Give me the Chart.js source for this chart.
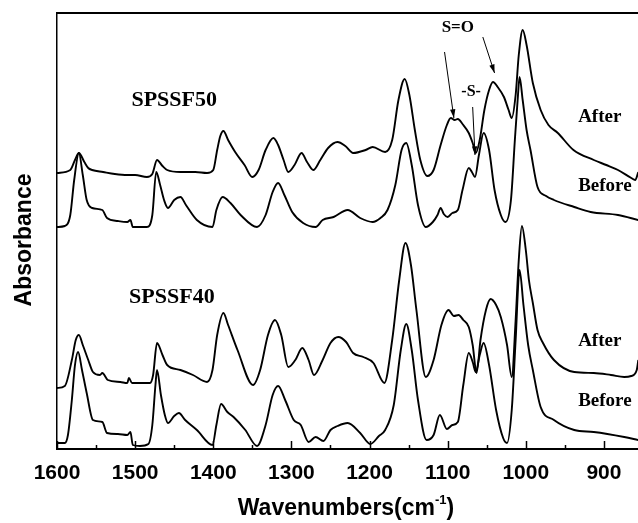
<!DOCTYPE html>
<html lang="en">
<head>
    <meta charset="UTF-8">
    <title>FTIR spectra</title>
    <script src="https://cdn.jsdelivr.net/npm/chart.js"></script>
    <style>
        html, body { margin: 0; padding: 0; background: #fff; }
        #wrap { width: 638px; height: 523px; }
    </style>
</head>
<body>
    <div id="wrap"><canvas id="irChart" width="638" height="523"></canvas></div>
    <script>
    // wavenumbers (cm-1) and absorbance (arbitrary, offset)
    const wn50After = [1600,1583,1577,1572,1565,1560,1555,1541,1526,1510,1500,1485,1478,1472,1465,1459,1442,1423,1408,1400,1395,1391,1387,1381,1372,1360,1350,1342,1333,1323,1317,1310,1304,1296,1287,1280,1272,1263,1253,1241,1231,1221,1205,1196,1180,1171,1163,1155,1149,1142,1135,1126,1118,1109,1101,1096,1091,1087,1081,1073,1068,1064,1059,1053,1047,1042,1036,1028,1022,1018,1013,1009,1004,999,991,981,971,959,939,913,897,882,865,860,856];
    const abs50After = [276,279,289,296,287,281,279,277,275,274,274,272,275,289,283,279,277,277,276,279,299,313,318,309,297,284,272,279,299,311,304,289,277,284,296,287,279,289,301,307,303,296,299,302,297,309,349,370,354,319,289,273,279,304,324,331,329,330,325,316,306,296,309,339,359,367,362,352,339,331,354,394,419,404,366,339,324,316,299,289,284,279,271,269,277];

    const wn50Before = [1600,1590,1583,1578,1572,1567,1562,1555,1542,1536,1522,1510,1506,1503,1485,1478,1473,1468,1463,1458,1450,1442,1435,1421,1401,1396,1388,1378,1365,1344,1333,1324,1317,1309,1299,1285,1269,1260,1246,1228,1212,1196,1186,1177,1167,1159,1153,1146,1138,1128,1119,1113,1109,1105,1100,1094,1087,1081,1073,1069,1065,1060,1054,1047,1040,1032,1026,1019,1014,1010,1008,1004,999,994,985,974,964,938,917,882,856];
    const abs50Before = [222,223,234,269,296,274,249,241,239,231,228,227,229,222,222,234,277,264,249,241,249,252,244,229,222,239,252,246,234,222,234,257,266,254,237,226,222,229,232,239,231,227,231,239,264,299,306,284,244,222,227,234,241,235,232,236,239,259,281,277,272,294,316,299,259,234,227,249,309,354,372,349,319,299,262,253,249,242,237,234,229];

    const wn40After = [1600,1590,1581,1576,1572,1567,1560,1554,1545,1542,1535,1519,1510,1508,1504,1481,1477,1472,1465,1459,1442,1426,1408,1401,1395,1387,1381,1369,1349,1340,1330,1321,1313,1304,1295,1286,1278,1271,1260,1250,1240,1230,1221,1208,1195,1181,1171,1162,1154,1147,1140,1128,1118,1108,1099,1092,1086,1080,1073,1068,1063,1058,1051,1045,1038,1032,1024,1018,1013,1009,1005,1000,996,991,985,978,964,938,913,891,874,865,858,856];
    const abs40After = [61,63,89,109,114,104,89,77,74,76,69,67,66,71,66,66,74,106,94,84,79,74,67,79,114,136,124,99,64,79,114,129,114,82,89,101,89,74,89,106,112,107,96,92,86,66,109,169,206,184,139,72,89,124,139,133,134,129,122,104,76,109,139,150,144,132,104,72,129,189,223,199,169,146,119,106,89,77,76,74,72,73,79,89];

    const wn40Before = [1600,1590,1586,1581,1577,1573,1568,1562,1554,1542,1536,1522,1510,1506,1503,1494,1483,1478,1474,1472,1467,1462,1458,1450,1444,1436,1421,1401,1396,1390,1382,1374,1359,1344,1333,1324,1317,1308,1297,1288,1278,1269,1259,1250,1241,1228,1212,1199,1188,1180,1169,1160,1153,1146,1138,1127,1118,1110,1101,1094,1087,1080,1073,1068,1064,1059,1054,1047,1038,1029,1024,1018,1013,1008,1003,997,991,981,964,938,913,874,856];
    const abs40Before = [6,6,14,49,84,97,79,56,29,27,16,15,14,17,4,3,5,24,64,79,54,34,26,33,36,29,19,4,24,45,37,32,19,3,24,54,63,49,29,24,7,12,8,19,23,26,16,5,13,19,44,99,125,99,49,9,14,34,20,24,27,64,96,87,77,94,106,84,39,11,6,39,109,179,144,104,79,42,29,19,17,12,9];

    const xTicks = [1600, 1500, 1400, 1300, 1200, 1100, 1000, 900];

    function toPoints(xs, ys) {
        return xs.map((x, i) => ({ x: x, y: ys[i] }));
    }

    // text labels placed in data coordinates
    const notes = [
        { text: 'SPSSF50', x: 1450, y: 349, size: 22, align: 'center' },
        { text: 'SPSSF40', x: 1453, y: 152, size: 22, align: 'center' },
        { text: 'S=O', x: 1087, y: 421, size: 17, align: 'center' },
        { text: '-S-', x: 1070, y: 357, size: 16, align: 'center' },
        { text: 'After', x: 933, y: 332, size: 19, align: 'left' },
        { text: 'Before', x: 933, y: 263, size: 19, align: 'left' },
        { text: 'After', x: 933, y: 108, size: 19, align: 'left' },
        { text: 'Before', x: 933, y: 48, size: 19, align: 'left' }
    ];
    const arrows = [
        { x1: 1104, y1: 397, x2: 1092, y2: 331 },
        { x1: 1055, y1: 412, x2: 1040, y2: 376 },
        { x1: 1068, y1: 342, x2: 1065, y2: 294 }
    ];

    const extras = {
        id: 'extras',
        afterDraw(chart) {
            const ctx = chart.ctx;
            const xs = chart.scales.x, ys = chart.scales.y;
            const area = chart.chartArea;
            ctx.save();
            ctx.fillStyle = '#000';
            ctx.strokeStyle = '#000';

            // top frame line
            ctx.lineWidth = 2;
            ctx.beginPath();
            ctx.moveTo(area.left, area.top);
            ctx.lineTo(area.right, area.top);
            ctx.stroke();

            // inward ticks on the x axis
            ctx.lineWidth = 1.5;
            for (let v = 1600; v >= xs.min; v -= 50) {
                const px = Math.round(xs.getPixelForValue(v)) + 0.5;
                const len = v % 100 === 0 ? 8 : 4;
                ctx.beginPath();
                ctx.moveTo(px, area.bottom);
                ctx.lineTo(px, area.bottom - len);
                ctx.stroke();
            }

            // annotations
            ctx.textBaseline = 'middle';
            notes.forEach(n => {
                ctx.font = 'bold ' + n.size + 'px "Liberation Serif", "Times New Roman", serif';
                ctx.textAlign = n.align;
                ctx.fillText(n.text, xs.getPixelForValue(n.x), ys.getPixelForValue(n.y));
            });

            // arrows
            ctx.lineWidth = 1;
            arrows.forEach(a => {
                const x1 = xs.getPixelForValue(a.x1), y1 = ys.getPixelForValue(a.y1);
                const x2 = xs.getPixelForValue(a.x2), y2 = ys.getPixelForValue(a.y2);
                const ang = Math.atan2(y2 - y1, x2 - x1);
                ctx.beginPath();
                ctx.moveTo(x1, y1);
                ctx.lineTo(x2, y2);
                ctx.stroke();
                ctx.beginPath();
                ctx.moveTo(x2, y2);
                ctx.lineTo(x2 - 9 * Math.cos(ang - 0.3), y2 - 9 * Math.sin(ang - 0.3));
                ctx.lineTo(x2 - 9 * Math.cos(ang + 0.3), y2 - 9 * Math.sin(ang + 0.3));
                ctx.closePath();
                ctx.fill();
            });

            // axis titles
            const big = 'bold 23px "Liberation Sans", Arial, sans-serif';
            const small = 'bold 13px "Liberation Sans", Arial, sans-serif';
            ctx.textAlign = 'left';
            ctx.textBaseline = 'alphabetic';
            const main = 'Wavenumbers(cm';
            ctx.font = big;
            const wMain = ctx.measureText(main).width;
            const wClose = ctx.measureText(')').width;
            ctx.font = small;
            const wSup = ctx.measureText('-1').width;
            const total = wMain + wSup + wClose;
            const tx = 346 - total / 2;
            const base = 515;
            ctx.font = big;
            ctx.fillText(main, tx, base);
            ctx.fillText(')', tx + wMain + wSup, base);
            ctx.font = small;
            ctx.fillText('-1', tx + wMain, base - 11);

            ctx.translate(25, 240);
            ctx.rotate(-Math.PI / 2);
            ctx.textAlign = 'center';
            ctx.textBaseline = 'middle';
            ctx.font = big;
            ctx.fillText('Absorbance', 0, 0);
            ctx.restore();
        }
    };

    const lineStyle = {
        borderColor: '#000',
        borderWidth: 1.9,
        pointRadius: 0,
        fill: false,
        cubicInterpolationMode: 'monotone'
    };

    const ctx = document.getElementById('irChart').getContext('2d');
    const irChart = new Chart(ctx, {
        type: 'line',
        data: {
            datasets: [
                Object.assign({ label: 'SPSSF50 After', data: toPoints(wn50After, abs50After) }, lineStyle),
                Object.assign({ label: 'SPSSF50 Before', data: toPoints(wn50Before, abs50Before) }, lineStyle),
                Object.assign({ label: 'SPSSF40 After', data: toPoints(wn40After, abs40After) }, lineStyle),
                Object.assign({ label: 'SPSSF40 Before', data: toPoints(wn40Before, abs40Before) }, lineStyle)
            ]
        },
        options: {
            responsive: false,
            animation: false,
            layout: { padding: { top: 13, right: 0, left: 0, bottom: 0 } },
            plugins: {
                legend: { display: false },
                tooltip: { enabled: false }
            },
            scales: {
                x: {
                    type: 'linear',
                    reverse: true,
                    min: 856.4,
                    max: 1600,
                    grid: { display: false, drawTicks: false },
                    border: { display: true, color: '#000', width: 2 },
                    afterFit: s => { s.height = 74; },
                    afterBuildTicks: s => { s.ticks = xTicks.map(v => ({ value: v })); },
                    ticks: {
                        includeBounds: false,
                        autoSkip: false,
                        maxRotation: 0,
                        padding: 12,
                        color: '#000',
                        callback: v => String(v),
                        font: { family: '"Liberation Sans", Arial, sans-serif', size: 21, weight: 'bold' }
                    }
                },
                y: {
                    type: 'linear',
                    min: 0,
                    max: 436,
                    grid: { display: false, drawTicks: false },
                    border: { display: true, color: '#000', width: 1.5 },
                    ticks: { display: false },
                    afterFit: s => { s.width = 57; }
                }
            }
        },
        plugins: [extras]
    });
    </script>
</body>
</html>
